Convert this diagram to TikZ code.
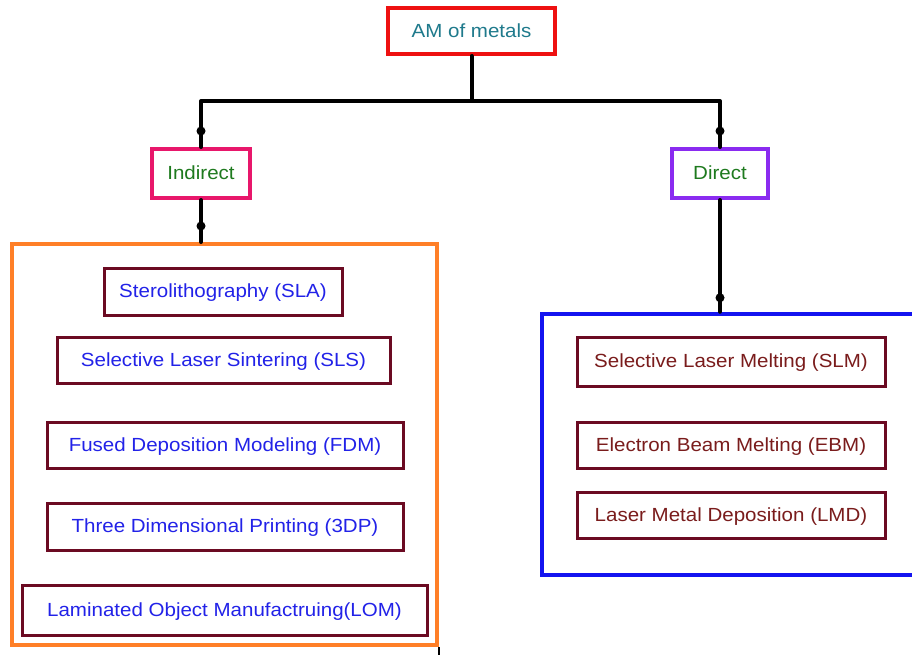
\documentclass[tikz,border=0pt]{standalone}
\usepackage{fontspec}
\setmainfont{Liberation Sans}[FakeStretch=1.08]
\usetikzlibrary{calc}
\begin{document}
\begin{tikzpicture}[x=1pt,y=-1pt,
  box/.style={draw,rectangle,inner sep=0pt,fill=white,text height=12.5pt,text depth=0pt,font=\fontsize{19}{22}\selectfont},
  topbox/.style={box,draw=amred,line width=4pt,text=amteal},
  branch/.style={box,line width=4pt,text=brgreen},
  frame/.style={draw,rectangle,inner sep=0pt,line width=4pt},
  item/.style={box,draw=itemborder,line width=3pt},
  conn/.style={draw=black,line width=4pt,line cap=round,line join=round},
  dot/.style={fill=black}]
\definecolor{amred}{HTML}{EE1111}
\definecolor{amteal}{HTML}{1F7A8C}
\definecolor{brgreen}{HTML}{1E7A1E}
\definecolor{indpink}{HTML}{E8176B}
\definecolor{dirpurple}{HTML}{8A2BF0}
\definecolor{indorange}{HTML}{FF7F27}
\definecolor{dirblue}{HTML}{1414F0}
\definecolor{itemborder}{HTML}{6B0A22}
\definecolor{itemblue}{HTML}{2222E8}
\definecolor{itembrown}{HTML}{7A1C1C}
\useasboundingbox (0,0) rectangle (912,655);

% group frames
\node[frame,draw=indorange,minimum width=425pt,minimum height=401pt] (indgroup) at (224.5,444.5) {};
\node[frame,draw=dirblue,line width=4.5pt,minimum width=374pt,minimum height=261pt] (dirgroup) at (729,444.5) {};

% root and branches
\node[topbox,minimum width=167pt,minimum height=46pt] (am) at (471.5,31) {AM of metals};
\node[branch,draw=indpink,minimum width=98pt,minimum height=49pt] (indirect) at (201,173.5) {Indirect};
\node[branch,draw=dirpurple,minimum width=96pt,minimum height=49pt] (direct) at (720,173.5) {Direct};
\coordinate (junc) at (471.5,101);

% indirect processes
\node[item,text=itemblue,minimum width=238pt,minimum height=47pt] (sla) at (223,291.5) {Sterolithography (SLA)};
\node[item,text=itemblue,minimum width=333pt,minimum height=46pt] (sls) at (223.5,360) {Selective Laser Sintering (SLS)};
\node[item,text=itemblue,minimum width=356pt,minimum height=46pt] (fdm) at (225,445) {Fused Deposition Modeling (FDM)};
\node[item,text=itemblue,minimum width=356pt,minimum height=47pt] (tdp) at (225,526.5) {Three Dimensional Printing (3DP)};
\node[item,text=itemblue,minimum width=405pt,minimum height=50pt] (lom) at (224.5,610) {Laminated Object Manufactruing(LOM)};

% direct processes
\node[item,text=itembrown,minimum width=308pt,minimum height=49pt] (slm) at (731,361.5) {Selective Laser Melting (SLM)};
\node[item,text=itembrown,minimum width=308pt,minimum height=46pt] (ebm) at (731,445) {Electron Beam Melting (EBM)};
\node[item,text=itembrown,minimum width=308pt,minimum height=46pt] (lmd) at (731,515) {Laser Metal Deposition (LMD)};

% tree connectors
\draw[conn] (am.south) -- (junc);
\draw[conn] (indirect.north) |- (junc) -| (direct.north);
\draw[conn] (indirect.south) -- (indirect.south |- indgroup.north);
\draw[conn] (direct.south) -- (direct.south |- dirgroup.north);
\draw[line width=1.5pt] (indgroup.south east) -- ++(0,12);

% junction dots
\fill[dot] ($(indirect.north)+(0,-16)$) circle (4.5);
\fill[dot] ($(direct.north)+(0,-16)$) circle (4.5);
\fill[dot] ($(indirect.south |- indgroup.north)+(0,-16)$) circle (4.5);
\fill[dot] ($(direct.south |- dirgroup.north)+(0,-14)$) circle (4.5);
\end{tikzpicture}
\end{document}
